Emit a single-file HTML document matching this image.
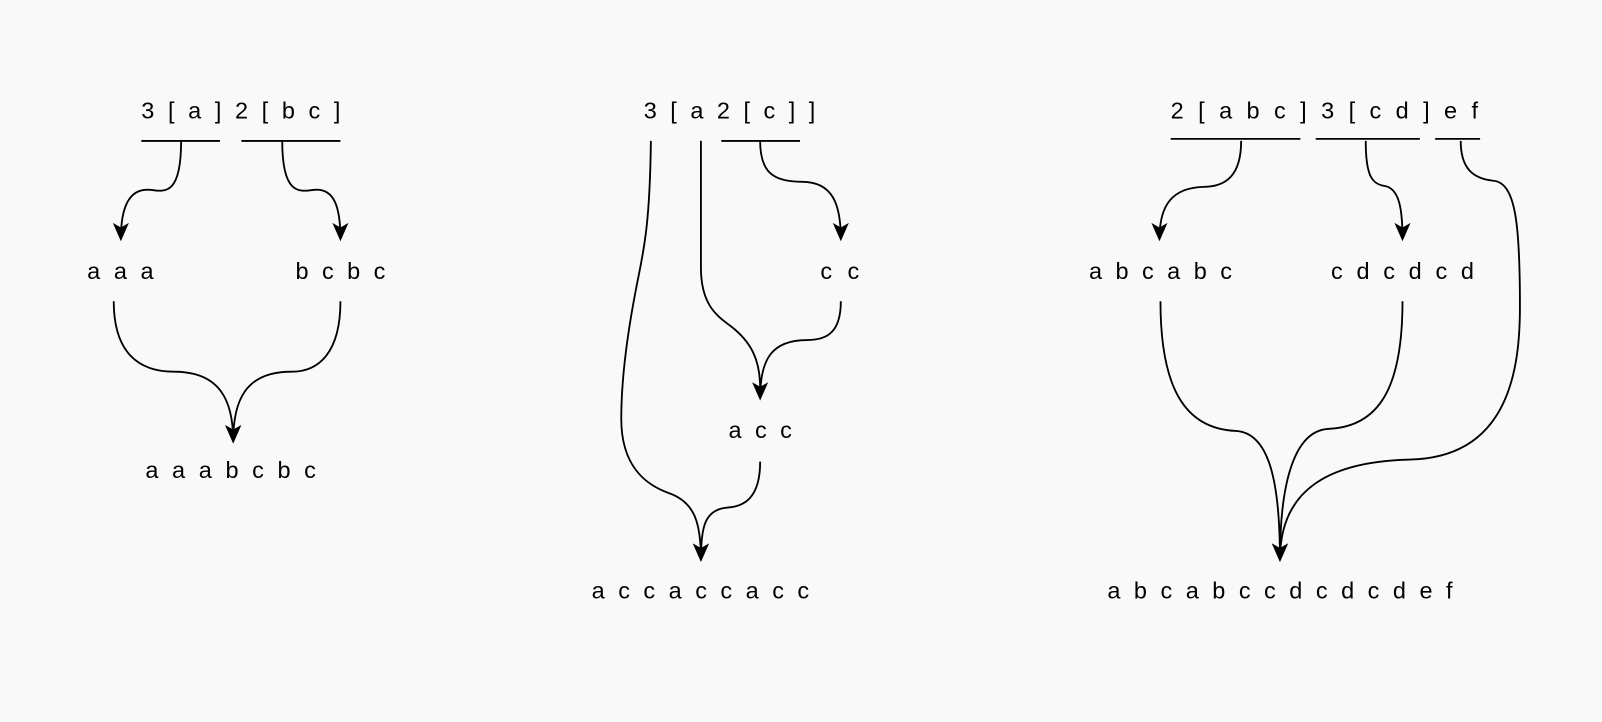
<!DOCTYPE html>
<html><head><meta charset="utf-8"><style>
html,body{margin:0;padding:0;background:#f9f9f9;}
svg{display:block;}
text{font-family:"Liberation Sans",sans-serif;font-size:23px;fill:#000;}
.l{fill:none;stroke:#000;stroke-width:1.8;}
</style></head><body>
<svg width="1602" height="722" viewBox="0 0 1568 707">
<defs><marker id="ah" viewBox="0 0 16 16" refX="14" refY="8" markerWidth="18" markerHeight="18" markerUnits="userSpaceOnUse" orient="auto"><path d="M0,1 L16,8 L0,15 L4,8 Z" fill="#000"/></marker></defs>
<rect width="1568" height="707" fill="#f9f9f9"/>
<g>
<text x="138" y="116" textLength="195" lengthAdjust="spacing">3 [ a ] 2 [ b c ]</text>
<line x1="138" y1="138" x2="215" y2="138" class="l"/>
<line x1="236" y1="138" x2="333" y2="138" class="l"/>
<path class="l" marker-end="url(#ah)" d="M177,138 C177,190 162,188 148,186 C125,183 118,205 118,234"/>
<path class="l" marker-end="url(#ah)" d="M276,138 C276,190 292,188 306,186 C328,183 333,205 333,234"/>
<text x="85" y="273" textLength="65" lengthAdjust="spacing">a a a</text>
<text x="289" y="273" textLength="88" lengthAdjust="spacing">b c b c</text>
<path class="l" marker-end="url(#ah)" d="M111,295 C111,345 135,364 170,364 C215,364 228,392 228,432"/>
<path class="l" marker-end="url(#ah)" d="M333,295 C333,345 312,364 285,364 C240,364 228,392 228,432"/>
<text x="142" y="468" textLength="167" lengthAdjust="spacing">a a a b c b c</text>
</g>
<g>
<text x="630" y="116" textLength="168" lengthAdjust="spacing">3 [ a 2 [ c ] ]</text>
<line x1="706" y1="138" x2="783" y2="138" class="l"/>
<path class="l" marker-end="url(#ah)" d="M637,138 C636,220 630,245 624,275 C614,325 608,370 608,410 C608,462 638,477 655,483 C680,492 686,512 686,548"/>
<path class="l" d="M686,138 L686,262 C686,300 703,310 716,320 C735,335 744,352 744,380"/>
<path class="l" marker-end="url(#ah)" d="M744,138 C744,170 758,178 785,178 C815,178 823,200 823,234"/>
<text x="803" y="273" textLength="38" lengthAdjust="spacing">c c</text>
<path class="l" marker-end="url(#ah)" d="M823,295 C823,325 810,333 790,333 C755,333 744,352 744,390"/>
<text x="713" y="429" textLength="62" lengthAdjust="spacing">a c c</text>
<path class="l" marker-end="url(#ah)" d="M744,452 C744,488 728,496 712,497 C690,499 686,515 686,548"/>
<text x="579" y="586" textLength="213" lengthAdjust="spacing">a c c a c c a c c</text>
</g>
<g>
<text x="1146" y="116" textLength="301" lengthAdjust="spacing">2 [ a b c ] 3 [ c d ] e f</text>
<line x1="1146" y1="136" x2="1273" y2="136" class="l"/>
<line x1="1288" y1="136" x2="1390" y2="136" class="l"/>
<line x1="1405" y1="136" x2="1449" y2="136" class="l"/>
<path class="l" marker-end="url(#ah)" d="M1215,138 C1215,172 1200,183 1178,183 C1148,184 1135,200 1135,234"/>
<path class="l" marker-end="url(#ah)" d="M1337,138 C1337,172 1343,180 1355,182 C1370,184 1373,205 1373,234"/>
<path class="l" marker-end="url(#ah)" d="M1430,138 C1430,165 1442,175 1462,177 C1484,179 1488,220 1488,300 C1488,360 1478,448 1380,450 C1300,452 1253,480 1253,548"/>
<text x="1066" y="273" textLength="140" lengthAdjust="spacing">a b c a b c</text>
<text x="1303" y="273" textLength="140" lengthAdjust="spacing">c d c d c d</text>
<path class="l" marker-end="url(#ah)" d="M1136,295 C1136,380 1160,420 1210,422 C1242,424 1253,470 1253,548"/>
<path class="l" marker-end="url(#ah)" d="M1373,295 C1373,380 1350,418 1300,420 C1268,422 1253,470 1253,548"/>
<text x="1084" y="586" textLength="338" lengthAdjust="spacing">a b c a b c c d c d c d e f</text>
</g>
</svg>
</body></html>
